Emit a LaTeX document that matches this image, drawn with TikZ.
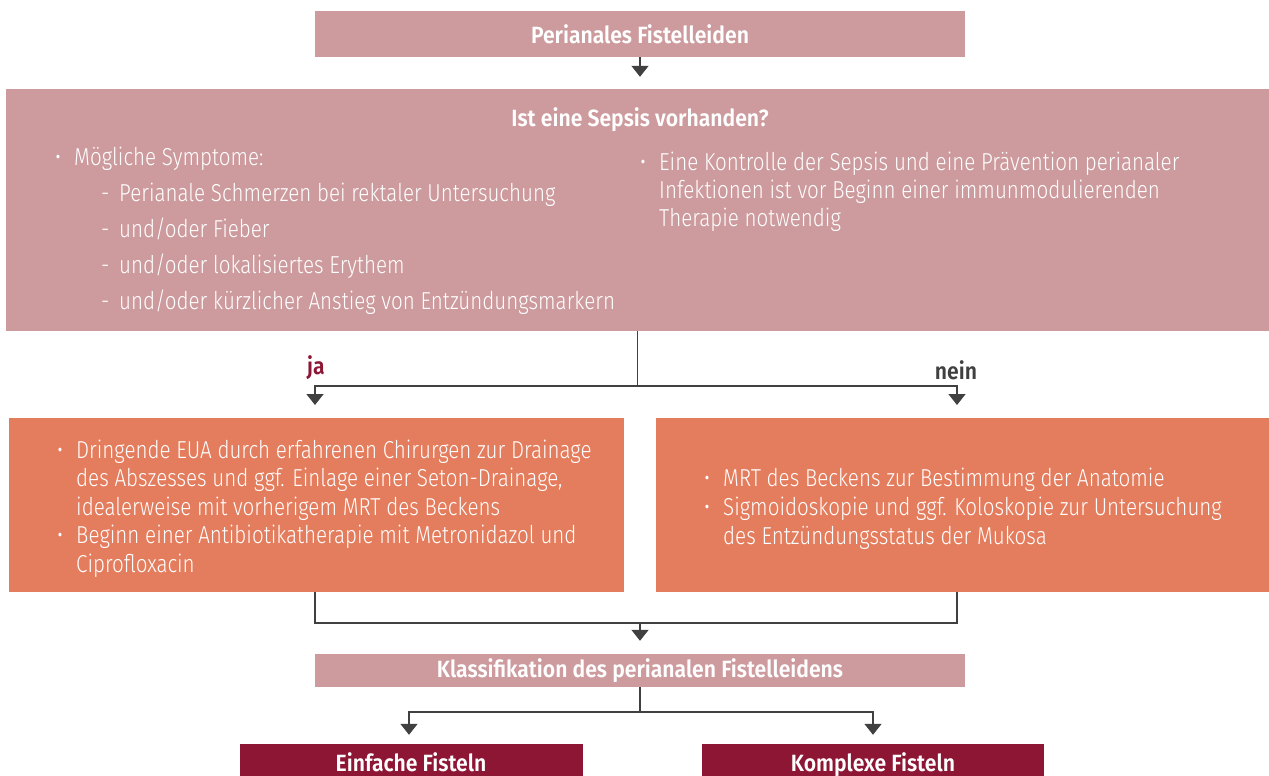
\documentclass[tikz,border=0pt]{standalone}
\usepackage{fontspec}
\setmainfont{Fira Sans}[UprightFont=* Light, BoldFont=* SemiBold, UprightFeatures={FakeStretch=0.84}, BoldFeatures={FakeStretch=0.9}]
\usetikzlibrary{arrows.meta}
\definecolor{pinkbox}{HTML}{CD9B9E}
\definecolor{orangebox}{HTML}{E47D5D}
\definecolor{darkred}{HTML}{8C1634}
\definecolor{linegray}{HTML}{404040}
\tikzset{
  box/.style={draw=none, inner sep=0pt, text=white, font=\bfseries\fontsize{23.5}{26}\selectfont},
  pinkb/.style={box, fill=pinkbox},
  orangeb/.style={box, fill=orangebox},
  redb/.style={box, fill=darkred},
  body/.style={text=white, inner sep=0pt, anchor=base west},
  lbl/.style={inner sep=0pt, font=\bfseries\fontsize{23.5}{26}\selectfont},
  conn/.style={draw=linegray, line width=1.6pt},
  arr/.style={conn, -{Triangle[width=17pt,length=11pt]}},
}
\newcommand{\bul}{\makebox[19pt][l]{•}}
\newcommand{\dsh}{\hspace{46pt}\makebox[18pt][l]{-}}
\newcommand{\blk}[2]{\parbox[t]{600pt}{\fontsize{24.5}{#1}\selectfont\raggedright #2}}
\begin{document}
\begin{tikzpicture}[x=1pt,y=-1pt]
\useasboundingbox (0,0) rectangle (1269,776);
% boxes
\node[pinkb, minimum width=650pt, minimum height=46pt] (top) at (640,34) {Perianales Fistelleiden};
\node[pinkb, minimum width=1263pt, minimum height=242pt] (big) at (637.5,210) {};
\node[lbl, text=white] (q) at (640,120) {Ist eine Sepsis vorhanden?};
\node[body] (symp) at (55,165) {\blk{36.2}{\bul Mögliche Symptome:\\
\dsh Perianale Schmerzen bei rektaler Untersuchung\\
\dsh und/oder Fieber\\
\dsh und/oder lokalisiertes Erythem\\
\dsh und/oder kürzlicher Anstieg von Entzündungsmarkern}};
\node[body] (ctrl) at (640,170) {\blk{28}{\bul Eine Kontrolle der Sepsis und eine Prävention perianaler\\
\hspace{19pt}Infektionen ist vor Beginn einer immunmodulierenden\\
\hspace{19pt}Therapie notwendig}};

\node[orangeb, minimum width=615pt, minimum height=174pt] (left) at (316.5,505) {};
\node[orangeb, minimum width=613pt, minimum height=174pt] (right) at (962.5,505) {};
\node[body] (ltxt) at (57,458) {\blk{28.5}{\bul Dringende EUA durch erfahrenen Chirurgen zur Drainage\\
\hspace{19pt}des Abszesses und ggf. Einlage einer Seton-Drainage,\\
\hspace{19pt}idealerweise mit vorherigem MRT des Beckens\\
\bul Beginn einer Antibiotikatherapie mit Metronidazol und\\
\hspace{19pt}Ciprofloxacin}};
\node[body] (rtxt) at (704,486) {\blk{29}{\bul MRT des Beckens zur Bestimmung der Anatomie\\
\bul Sigmoidoskopie und ggf. Koloskopie zur Untersuchung\\
\hspace{19pt}des Entzündungsstatus der Mukosa}};

\node[pinkb, minimum width=650pt, minimum height=33pt] (klass) at (640,670.5) {Klassifikation des perianalen Fistelleidens};
\node[redb, minimum width=343pt, minimum height=34pt] (einf) at (411.5,761) {};
\node[redb, minimum width=342pt, minimum height=34pt] (kompl) at (873,761) {};
\node[lbl, text=white, anchor=base] (einft) at (411,771) {Einfache Fisteln};
\node[lbl, text=white, anchor=base] (komplt) at (873,771) {Komplexe Fisteln};

% labels
\node[lbl, text=darkred] (ja) at (316,368) {ja};
\node[lbl, text=linegray] (nein) at (956,370) {nein};

% connectors
\draw[arr, shorten >=12pt] (top.south) -- (top.south |- big.north);
\coordinate (split) at (637.5,386);
\coordinate (ljoin) at (315,418);
\coordinate (rjoin) at (957,418);
\draw[conn] (big.south) -- (split);
\draw[arr, shorten >=13pt] (split) -| (ljoin);
\draw[arr, shorten >=13pt] (split) -| (rjoin);
\coordinate (merge) at (640,623);
\draw[conn] (ljoin |- left.south) |- (merge);
\draw[conn] (rjoin |- right.south) |- (merge);
\draw[arr, shorten >=13pt] (merge) -- (klass.north);
\coordinate (split2) at (640,712);
\draw[conn] (klass.south) -- (split2);
\draw[arr, shorten >=9pt] (split2) -| ([xshift=-2.5pt]einf.north);
\draw[arr, shorten >=9pt] (split2) -| (kompl.north);
\end{tikzpicture}
\end{document}
